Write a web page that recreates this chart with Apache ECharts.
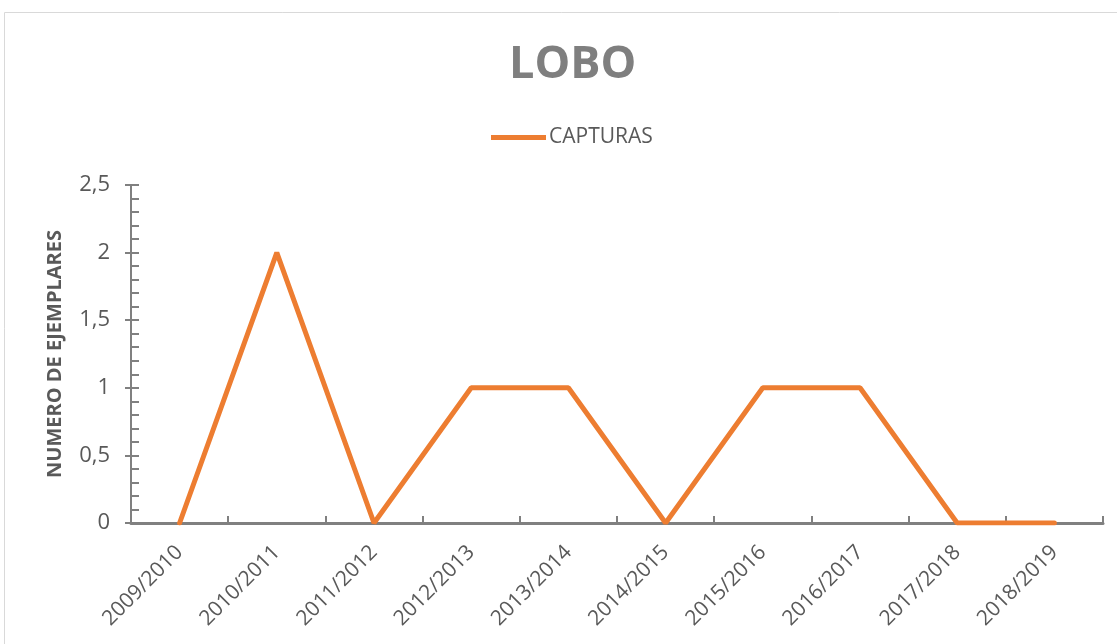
<!DOCTYPE html>
<html>
<head>
<meta charset="utf-8">
<script src="https://cdn.jsdelivr.net/npm/echarts@6/dist/echarts.min.js"></script>
<style>
  html, body { margin: 0; padding: 0; background: #fff; }
  #main { width: 1117px; height: 644px; }
</style>
</head>
<body>
<div id="main"></div>
<script>
// datos
const temporadas = ['2009/2010', '2010/2011', '2011/2012', '2012/2013', '2013/2014',
  '2014/2015', '2015/2016', '2016/2017', '2017/2018', '2018/2019']
const capturas = [0, 2, 0, 1, 1, 0, 1, 1, 0, 0]
const yMin = 0
const yMax = 2.5
const yStep = 0.5

const gris = '#808080'
const texto = '#595959'
const fuente = '"Open Sans", sans-serif'

let mychart = echarts.init(document.getElementById('main'))

var option = {
  animation: false,
  textStyle: { fontFamily: fuente },
  graphic: [{
    type: 'rect',
    shape: { x: 4.5, y: 12.5, width: 1200, height: 700 },
    style: { fill: 'none', stroke: '#d9d9d9', lineWidth: 1 },
    silent: true
  }],
  title: {
    text: 'LOBO',
    left: 504,
    top: 38,
    textStyle: { fontSize: 45, fontWeight: 'bold', color: '#7f7f7f', fontFamily: fuente }
  },
  legend: {
    show: true,
    top: 122,
    left: 486,
    itemWidth: 55,
    itemHeight: 5,
    itemGap: 4,
    icon: 'rect',
    textStyle: { fontSize: 21, color: texto, fontFamily: fuente, padding: [0, 0, 0, -2] },
    data: ['CAPTURAS']
  },
  grid: { left: 131, right: 14, top: 185, bottom: 121, containLabel: false },
  xAxis: {
    type: 'category',
    data: temporadas,
    boundaryGap: true,
    axisLine: { lineStyle: { color: gris, width: 3 } },
    axisTick: { show: true, inside: true, length: 7, lineStyle: { color: gris, width: 2 } },
    axisLabel: { rotate: 45, fontSize: 21, color: texto, margin: 26, fontFamily: fuente },
    splitLine: { show: false }
  },
  yAxis: [{
    type: 'value',
    min: yMin,
    max: yMax,
    interval: yStep,
    position: 'left',
    name: 'NUMERO DE EJEMPLARES',
    nameLocation: 'middle',
    nameGap: 66,
    nameTextStyle: { fontSize: 20, fontWeight: 'bold', color: texto, fontFamily: fuente },
    axisLine: { show: true, lineStyle: { color: gris, width: 2 } },
    axisTick: { show: true, inside: false, length: 6, lineStyle: { color: gris, width: 2 } },
    axisLabel: { fontSize: 22, color: texto, margin: 21, fontFamily: fuente,
      formatter: v => String(v).replace('.', ',') },
    splitLine: { show: false }
  }, {
    type: 'value',
    min: yMin,
    max: yMax,
    interval: yStep,
    position: 'left',
    offset: 0,
    axisLine: { show: true, lineStyle: { color: gris, width: 2 } },
    axisTick: { show: true, inside: true, length: 8, lineStyle: { color: gris, width: 2 } },
    minorTick: { show: true, splitNumber: 5, length: 8, lineStyle: { color: gris, width: 2 } },
    axisLabel: { show: false },
    splitLine: { show: false },
    minorSplitLine: { show: false }
  }],
  series: [{
    name: 'CAPTURAS',
    type: 'line',
    yAxisIndex: 0,
    data: capturas,
    showSymbol: false,
    symbol: 'none',
    color: '#ED7D31',
    lineStyle: { color: '#ED7D31', width: 5, cap: 'round' }
  }]
}

mychart.setOption(option)
</script>
</body>
</html>
